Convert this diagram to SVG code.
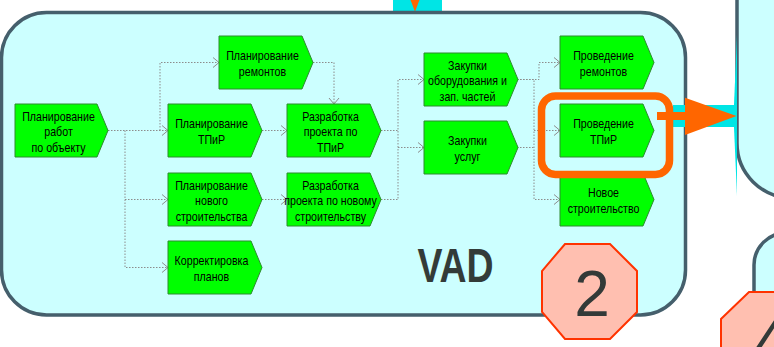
<svg xmlns="http://www.w3.org/2000/svg" width="774" height="347" viewBox="0 0 774 347">
<defs>
<style>
.box{fill:#ccffff;stroke:#455f6c;stroke-width:3.5}
.node{fill:#00ff00;stroke:#2e8b2e;stroke-width:1}
.t{font-family:"Liberation Sans",Arial,sans-serif;font-size:13px;fill:#000;text-anchor:middle}
.c{fill:none;stroke:#8c8c8c;stroke-width:1;stroke-dasharray:1.5 1.5;marker-end:url(#arr)}
.cn{fill:none;stroke:#8c8c8c;stroke-width:1;stroke-dasharray:1.5 1.5}
.oct{fill:#ffbfb0;stroke:#ff3300;stroke-width:2}
.dig{font-family:"Liberation Sans",Arial,sans-serif;font-size:64px;fill:#333a38;text-anchor:middle}
</style>
<marker id="arr" markerUnits="userSpaceOnUse" markerWidth="8" markerHeight="12" refX="7" refY="6" orient="auto" viewBox="0 0 8 12">
<path d="M1,1 L7,6 L1,11" fill="none" stroke="#8c8c8c" stroke-width="1" stroke-dasharray="none"/>
</marker>
</defs>

<g id="background">
<rect x="393" y="-2" width="49" height="16" fill="#00e5e5"/>
<polygon points="408.6,-5 421.4,-5 415,11.7" fill="#ff6600"/>
<rect class="box" x="737" y="-60" width="120" height="258" rx="55"/>
<rect class="box" x="754" y="233" width="100" height="150" rx="32"/>
</g>

<g id="vad">
<rect class="box" x="1.5" y="12.5" width="684" height="302.5" rx="45"/>
<text x="0" y="0" transform="translate(455.5,282) scale(0.78,1)" font-family="Liberation Sans, Arial, sans-serif" font-size="48" font-weight="bold" fill="#333b38" text-anchor="middle">VAD</text>
</g>

<g id="flow-link">
<rect x="673" y="105" width="64" height="22" fill="#00e5e5"/>
<polygon points="737,35 733.5,116 737,196" fill="#00e5e5"/>
</g>

<g id="connectors">
<path class="c" d="M108,130.5 H168"/>
<path class="c" d="M125,130.5 V199.5 H168"/>
<path class="c" d="M125,199.5 V267.5 H168"/>
<path class="c" d="M160,130.5 V62.5 H219"/>
<path class="c" d="M313,62.5 H334 V104"/>
<path class="c" d="M262,130.5 H287"/>
<path class="c" d="M262,199.5 H287"/>
<path class="c" d="M381,199.5 H398 V79.5 H424"/>
<path class="cn" d="M381,130.5 H398"/>
<path class="c" d="M398,147.5 H424"/>
<path class="c" d="M517,79.5 H539 V62.5 H560"/>
<path class="c" d="M517,79.5 H534 V199.5 H560"/>
<path class="c" d="M534,130.5 H560"/>
<path class="cn" d="M517,147.5 H534"/>
</g>

<g id="n1" transform="translate(15,104)"><path class="node" d="M0,0H82L93,26.5L82,53H0Z"/><text class="t" transform="translate(43.5,0) scale(0.82,1)"><tspan x="0" y="17">Планирование</tspan><tspan x="0" y="32.5">работ</tspan><tspan x="0" y="48.5">по объекту</tspan></text></g>
<g id="n2" transform="translate(219,36)"><path class="node" d="M0,0H83L94,26.5L83,53H0Z"/><text class="t" transform="translate(43.5,0) scale(0.82,1)"><tspan x="0" y="24">Планирование</tspan><tspan x="0" y="40">ремонтов</tspan></text></g>
<g id="n3" transform="translate(168,104)"><path class="node" d="M0,0H83L94,26.5L83,53H0Z"/><text class="t" transform="translate(43.5,0) scale(0.82,1)"><tspan x="0" y="24">Планирование</tspan><tspan x="0" y="40">ТПиР</tspan></text></g>
<g id="n4" transform="translate(287,104)"><path class="node" d="M0,0H83L94,26.5L83,53H0Z"/><text class="t" transform="translate(43.5,0) scale(0.82,1)"><tspan x="0" y="17">Разработка</tspan><tspan x="0" y="32.5">проекта по</tspan><tspan x="0" y="48.5">ТПиР</tspan></text></g>
<g id="n5" transform="translate(168,173)"><path class="node" d="M0,0H83L94,26.5L83,53H0Z"/><text class="t" transform="translate(43.5,0) scale(0.82,1)"><tspan x="0" y="17">Планирование</tspan><tspan x="0" y="32.5">нового</tspan><tspan x="0" y="48.5">строительства</tspan></text></g>
<g id="n6" transform="translate(287,173)"><path class="node" d="M0,0H83L94,26.5L83,53H0Z"/><text class="t" transform="translate(43.5,0) scale(0.82,1)"><tspan x="0" y="17">Разработка</tspan><tspan x="0" y="32.5">проекта по новому</tspan><tspan x="0" y="48.5">строительству</tspan></text></g>
<g id="n7" transform="translate(168,241)"><path class="node" d="M0,0H83L94,26.5L83,53H0Z"/><text class="t" transform="translate(43.5,0) scale(0.82,1)"><tspan x="0" y="24">Корректировка</tspan><tspan x="0" y="40">планов</tspan></text></g>
<g id="n8" transform="translate(424,53)"><path class="node" d="M0,0H83L94,26.5L83,53H0Z"/><text class="t" transform="translate(43.5,0) scale(0.82,1)"><tspan x="0" y="17">Закупки</tspan><tspan x="0" y="32.5">оборудования и</tspan><tspan x="0" y="48.5">зап. частей</tspan></text></g>
<g id="n9" transform="translate(424,121)"><path class="node" d="M0,0H83L94,26.5L83,53H0Z"/><text class="t" transform="translate(43.5,0) scale(0.82,1)"><tspan x="0" y="24">Закупки</tspan><tspan x="0" y="40">услуг</tspan></text></g>
<g id="n10" transform="translate(560,36)"><path class="node" d="M0,0H83L94,26.5L83,53H0Z"/><text class="t" transform="translate(43.5,0) scale(0.82,1)"><tspan x="0" y="24">Проведение</tspan><tspan x="0" y="40">ремонтов</tspan></text></g>
<g id="n11" transform="translate(560,104)"><path class="node" d="M0,0H83L94,26.5L83,53H0Z"/><text class="t" transform="translate(43.5,0) scale(0.82,1)"><tspan x="0" y="24">Проведение</tspan><tspan x="0" y="40">ТПиР</tspan></text></g>
<g id="n12" transform="translate(560,173)"><path class="node" d="M0,0H83L94,26.5L83,53H0Z"/><text class="t" transform="translate(43.5,0) scale(0.82,1)"><tspan x="0" y="24">Новое</tspan><tspan x="0" y="40">строительство</tspan></text></g>

<g id="highlight">
<rect x="541.5" y="96" width="128" height="78.5" rx="14" fill="none" stroke="#ff6600" stroke-width="7.5"/>
<rect x="657" y="112" width="32" height="8" fill="#ff6600"/>
<polygon points="685,97.7 736.5,116 685,135" fill="#ff6600"/>
</g>

<g id="badge2">
<polygon class="oct" points="565,244 610,244 637,271 637,312 610,339 565,339 542,312 542,271"/>
<text class="dig" x="592" y="316">2</text>
</g>
<g id="badge4">
<polygon class="oct" points="749,292 794,292 821,319 821,360 794,387 749,387 721,360 721,319"/>
<text class="dig" x="771" y="364">4</text>
</g>
</svg>
